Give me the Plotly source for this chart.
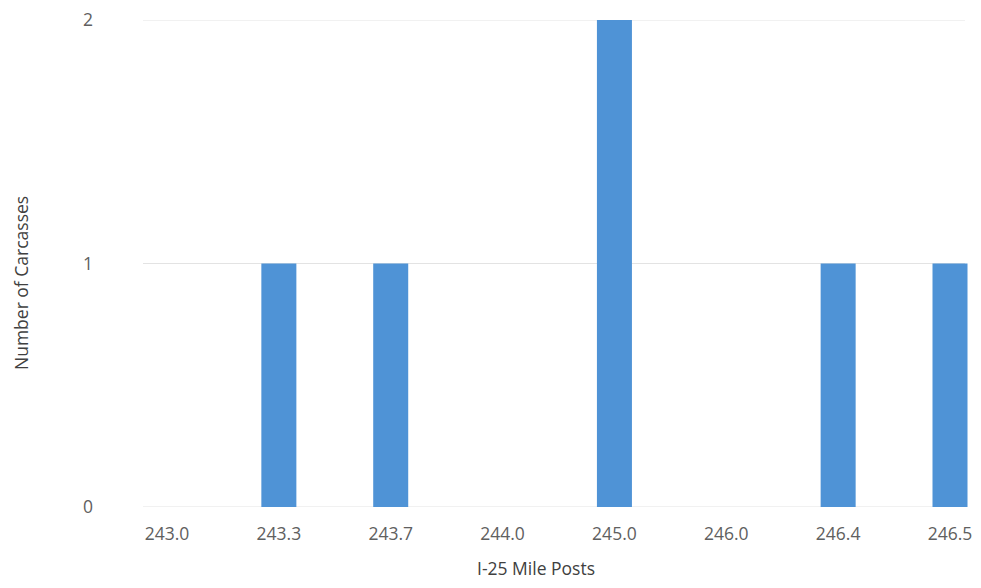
import plotly.graph_objects as go

mile_posts = ["243.0", "243.3", "243.7", "244.0", "245.0", "246.0", "246.4", "246.5"]
carcasses = [0, 1, 1, 0, 2, 0, 1, 1]
y_ticks = [0, 1, 2]

font_family = "Open Sans, Liberation Sans, sans-serif"

# the page body adds an 8px margin on every side; keep the figure inside the window
OFF = 8
W, H = 981 - 2 * OFF, 588 - 2 * OFF
L, R, T, B = 110 - OFF, 0, 20 - OFF, H - (507 - OFF)
pw, ph = W - L - R, H - T - B

fig = go.Figure(go.Bar(
    x=mile_posts,
    y=carcasses,
    marker=dict(color="#4f93d6", line=dict(width=0)),
    width=0.313,
))

fig.update_layout(
    width=W, height=H,
    margin=dict(l=L, r=R, t=T, b=B),
    paper_bgcolor="white", plot_bgcolor="white",
    showlegend=False,
    font=dict(family=font_family, size=18, color="#595959"),
)
fig.update_xaxes(
    type="category",
    range=[-0.5096, 7.2056],
    automargin=False,
    showgrid=False, zeroline=False, showline=False,
    ticks="", tickfont=dict(size=17.5, color="#606060"),
    ticklabelstandoff=14,
    ticklabeloverflow="allow",
)
fig.update_yaxes(
    range=[0, 2],
    tickvals=y_ticks,
    automargin=False,
    showgrid=False, zeroline=False, showline=False,
    ticks="", tickfont=dict(size=17.5, color="#606060"),
    ticklabelstandoff=16,
    ticklabeloverflow="allow",
)
for v in y_ticks:
    fig.add_shape(type="line", xref="paper", yref="y",
                  x0=(143 - 110) / pw, x1=(965 - 110) / pw, y0=v, y1=v,
                  line=dict(color="#e3e3e3", width=1.2), layer="below")

fig.add_annotation(text="I-25 Mile Posts", xref="paper", yref="paper",
                   x=(536 - 110) / pw, y=(507 - 568) / ph, showarrow=False,
                   xanchor="center", yanchor="middle",
                   font=dict(size=17.5, color="#404040"))
fig.add_annotation(text="Number of Carcasses", xref="paper", yref="paper",
                   x=(21 - 110) / pw, y=(507 - 283) / ph, showarrow=False,
                   textangle=-90, xanchor="center", yanchor="middle",
                   font=dict(size=17.5, color="#404040"))

fig.write_html("out.html")
